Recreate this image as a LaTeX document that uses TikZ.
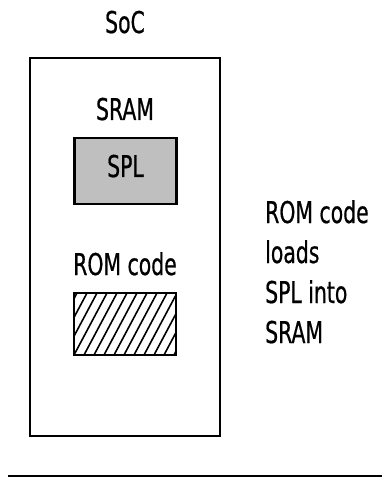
\documentclass[tikz,border=0pt]{standalone}
\usepackage{fontspec}
\setmainfont{DejaVu Sans}[FakeStretch=0.68,FakeBold=0.6]
\begin{document}
\begin{tikzpicture}[x=1pt,y=-1pt,
  lbl/.style={anchor=base,inner sep=0pt,font=\fontsize{30}{40}\selectfont},
  lbll/.style={anchor=base west,inner sep=0pt,font=\fontsize{30}{40}\selectfont},
  frame/.style={draw=black,line width=2.5pt},
  splbox/.style={draw=black,line width=2.5pt,fill=black!25,minimum width=102pt,minimum height=66pt,inner sep=0pt},
  hatchline/.style={line width=1.6pt}]
\useasboundingbox (0,0) rectangle (382,478);
% SoC
\node[lbl] (soc) at (125,33) {SoC};
\draw[frame] (30,58) rectangle (220,436);
% SRAM
\node[lbl] (sram) at (125,120) {SRAM};
\node[splbox] (splbox) at (125.5,171) {};
\node[lbl] (spl) at (125.5,177) {SPL};
% ROM code
\node[lbl] (rom) at (125,275) {ROM code};
\begin{scope}
  \clip (74,293) rectangle (176,355);
  \foreach \i in {0,...,15} \draw[hatchline] ({44+\i*10},355) -- ({44+\i*10+33},293);
\end{scope}
\draw[frame] (74,293) rectangle (176,355);
% description
\node[lbll] (r1) at (265,223) {ROM code};
\node[lbll] (r2) at (265,263) {loads};
\node[lbll] (r3) at (265,303) {SPL into};
\node[lbll] (r4) at (265,343) {SRAM};
% bottom rule
\coordinate (bl) at (8,476);
\coordinate (br) at (382,476);
\draw[line width=2pt] (bl) -- (br);
\end{tikzpicture}
\end{document}
